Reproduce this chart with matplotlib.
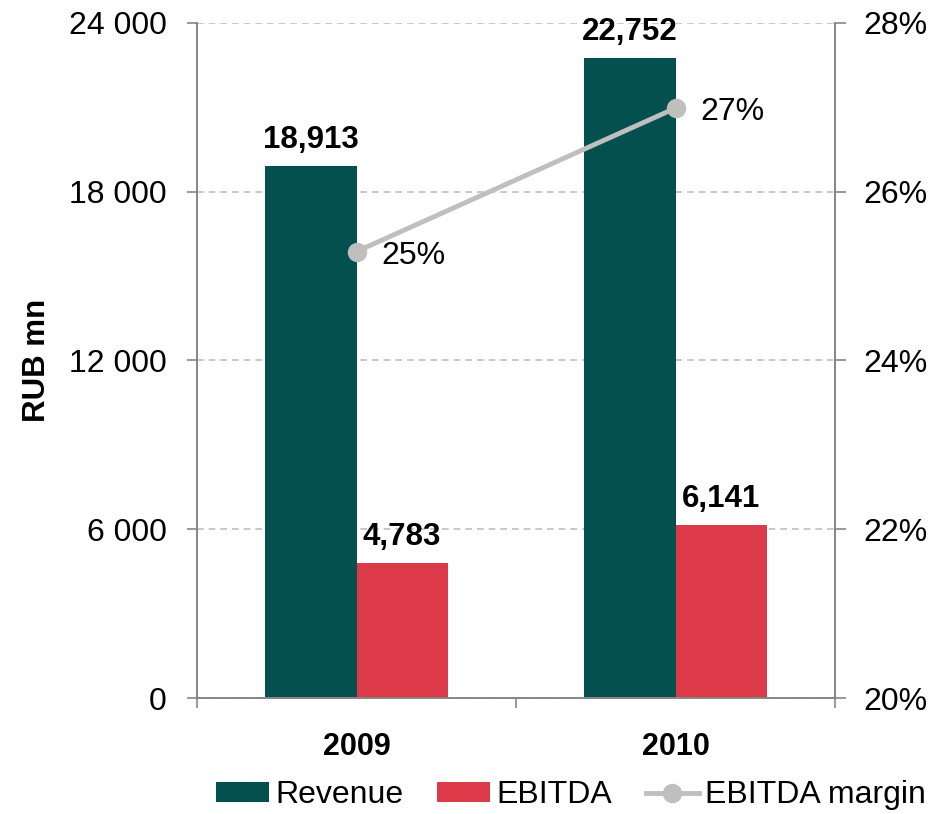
import matplotlib
matplotlib.use("Agg")
import matplotlib.pyplot as plt
import numpy as np
from matplotlib.ticker import FuncFormatter

plt.rcParams['font.family'] = ['Liberation Sans', 'DejaVu Sans']

years = ["2009", "2010"]
revenue = [18913, 22752]
ebitda = [4783, 6141]
margin = [25.29, 26.99]
margin_labels = ["25%", "27%"]

c_rev = "#03504F"
c_ebd = "#DC3949"
c_line = "#BFBFBF"
FS = 23

fig = plt.figure(figsize=(9.47, 8.14), dpi=100)
ax = fig.add_axes([0.208, 0.1425, 0.674, 0.8295])
ax2 = ax.twinx()

x = np.arange(len(years))
w = 0.286
b1 = ax.bar(x - w/2, revenue, w, color=c_rev, label="Revenue", zorder=2)
b2 = ax.bar(x + w/2, ebitda, w, color=c_ebd, label="EBITDA", zorder=2)

ax.set_xlim(-0.5, 1.5)
ax.set_ylim(0, 24000)
ax.set_yticks([0, 6000, 12000, 18000, 24000])
ax.yaxis.set_major_formatter(FuncFormatter(lambda v, p: f"{int(v):,}".replace(",", " ")))
ax.grid(axis='y', color='#BFBFBF', linestyle=(0, (4, 3)), linewidth=1.2, zorder=0)
ax.set_axisbelow(True)

for bars, vals in ((b1, revenue), (b2, ebitda)):
    for b, v in zip(bars, vals):
        ax.annotate(f"{v:,}", (b.get_x() + b.get_width()/2, v), xytext=(0, 8),
                    textcoords='offset points', ha='center', va='bottom',
                    fontsize=FS - 0.5, fontweight='bold')

ax.set_xticks([-0.5, 0.5, 1.5])
ax.set_xticklabels([])
ax.tick_params(axis='x', direction='out', length=7, color='#868686', width=1.2)
for xi, yl in zip(x, years):
    ax.text(xi, -0.072, yl, transform=ax.get_xaxis_transform(), ha='center', va='center',
            fontsize=FS - 1, fontweight='bold')

ax.tick_params(axis='y', direction='out', length=7, color='#868686', width=1.2,
               labelsize=FS, pad=15)
ax.set_ylabel("RUB mn", fontsize=FS - 0.5, fontweight='bold', labelpad=12)

ax.spines['top'].set_visible(False)
ax2.spines['top'].set_visible(False)
for s in ['left', 'bottom', 'right']:
    for a in (ax, ax2):
        a.spines[s].set_color('#868686')
        a.spines[s].set_linewidth(1.2)

ln, = ax2.plot(x, margin, color=c_line, linewidth=3.5, marker='o', markersize=13,
               label="EBITDA margin", zorder=3)
ax2.set_ylim(20, 28)
ax2.set_yticks([20, 22, 24, 26, 28])
ax2.yaxis.set_major_formatter(FuncFormatter(lambda v, p: f"{int(v)}%"))
ax2.tick_params(axis='y', direction='out', length=8, color='#868686', width=1.2,
                labelsize=FS, pad=12)
for xi, m, lbl in zip(x, margin, margin_labels):
    ax2.annotate(lbl, (xi, m), xytext=(18, -3), textcoords='offset points',
                 ha='left', va='center', fontsize=FS)

handles = [b1, b2, ln]
fig.legend(handles, ["Revenue", "EBITDA", "EBITDA margin"], loc='center',
           bbox_to_anchor=(0.603, 0.023), ncol=3, frameon=False, fontsize=FS,
           handlelength=1.66, handleheight=0.6, handletextpad=0.2, columnspacing=1.05,
           borderpad=0.0)

fig.savefig("out.png", dpi=100)
